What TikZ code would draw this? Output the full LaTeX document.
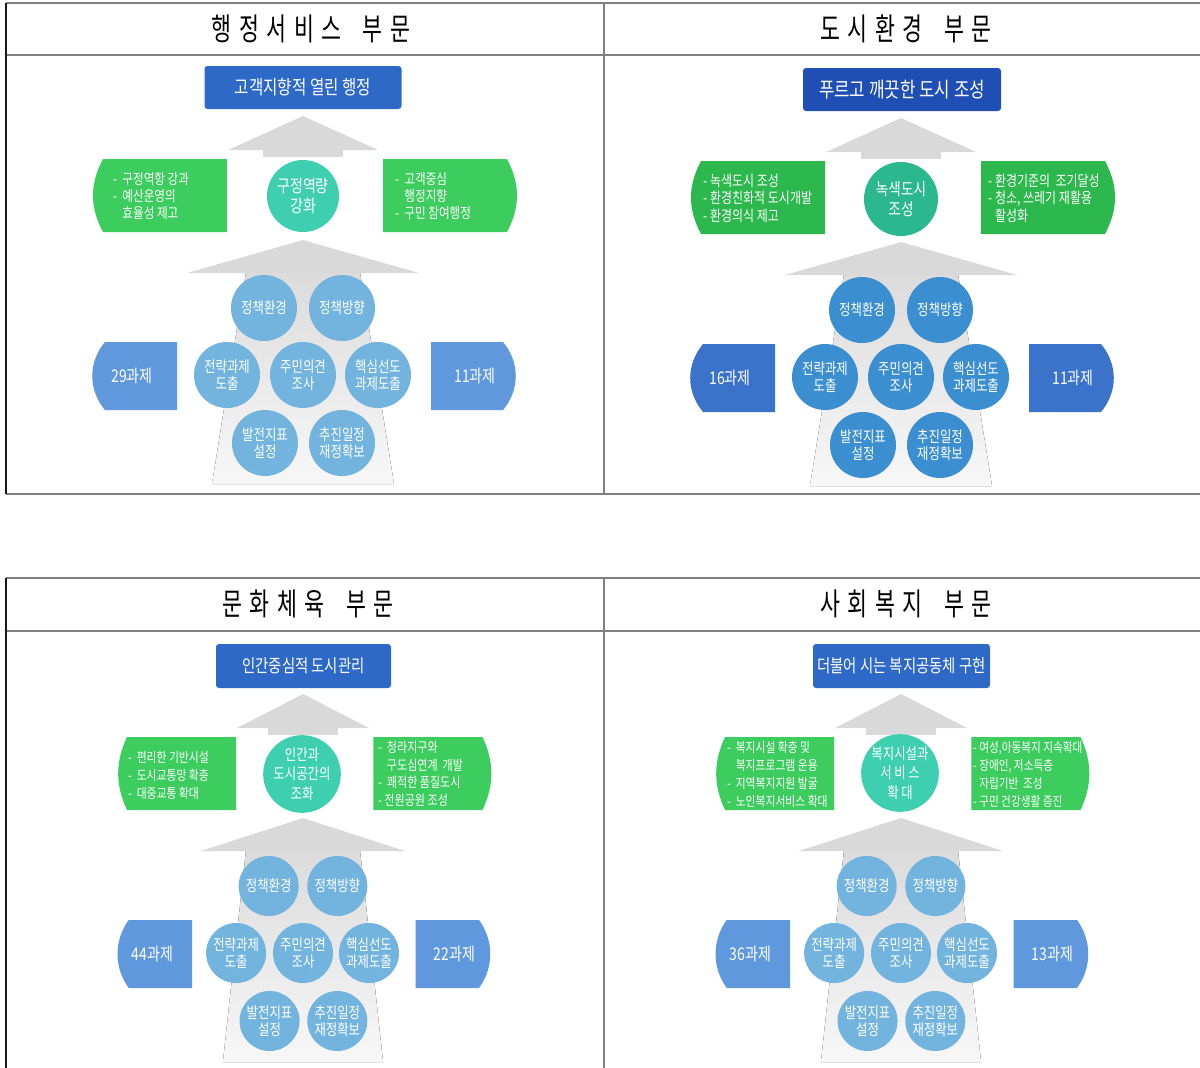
\documentclass[tikz,border=0pt]{standalone}
\usepackage{fontspec}
\usepackage{tikz}
\usetikzlibrary{calc}

\newfontfamily\krfont{Noto Sans CJK KR}[FakeStretch=0.8]
\newfontfamily\hdrfont{Noto Sans CJK KR}[FakeStretch=0.7,LetterSpace=24]

\definecolor{ttlA}{HTML}{2E69C8}
\definecolor{ttlB}{HTML}{1F4FB5}
\definecolor{grnA}{HTML}{3CCD5E}
\definecolor{grnB}{HTML}{2CB84C}
\definecolor{tealA}{HTML}{3ECFB0}
\definecolor{tealB}{HTML}{2BB88E}
\definecolor{cirA}{HTML}{72B4DE}
\definecolor{cirB}{HTML}{3B8FD1}
\definecolor{cntA}{HTML}{5F98DC}
\definecolor{cntB}{HTML}{3A73C9}

\tikzset{
  rulegray/.style={draw=black!50, line width=1.4pt},
  ruledark/.style={draw=black!90, line width=1.4pt},
  hdr/.style={font=\hdrfont\fontsize{31}{34}\selectfont},
  arrowtop/.style={fill=black!15},
  arrowbody/.style={top color=black!14, bottom color=black!3},
  aim/.style={rounded corners=3pt, text=white, minimum height=43pt, inner sep=0pt},
  goal/.style={circle, text=white, align=center, inner sep=0pt},
  task/.style={circle, text=white, align=center, inner sep=0pt,
    font=\krfont\fontsize{15.5}{17}\selectfont},
  nbox/.style={text=white, font=\krfont\fontsize{17.5}{19}\selectfont},
  memo/.style={text=white, align=left, anchor=west, inner sep=0pt},
}

\begin{document}
\begin{tikzpicture}[x=1pt, y=-1pt]
\useasboundingbox (0,0) rectangle (1200,1068);

% table
\draw[rulegray] (6,3) -- (1200,3);
\draw[rulegray] (6,55) -- (1200,55);
\draw[rulegray] (6,494) -- (1200,494);
\draw[rulegray] (6,578) -- (1200,578);
\draw[rulegray] (6,631) -- (1200,631);
\draw[rulegray] (604,3) -- (604,494);
\draw[rulegray] (604,578) -- (604,1068);
\draw[ruledark] (6,3) -- (6,494);
\draw[ruledark] (6,578) -- (6,1068);

\node[hdr] (h1) at (311,29) {행정서비스\hspace{9pt} 부문};
\node[hdr] (h2) at (906,29) {도시환경\hspace{9pt} 부문};
\node[hdr] (h3) at (308,604) {문화체육\hspace{9pt} 부문};
\node[hdr] (h4) at (906,604) {사회복지\hspace{9pt} 부문};

% panels
\foreach \p/\cx/\dy/\s/\r/\tn/\nl/\nr in {1/303/0/1/33/A/29/11, 2/901/2/1/33/B/16/11, 3/303/578/0.88/30/A/44/22, 4/901/578/0.88/30/A/36/13}{
  \pgfmathsetmacro\sh{57/\s}
  \begin{scope}[shift={(\cx,\dy)}, xscale=\s]
    \fill[arrowtop] (0,116) -- (75,150) -- (-75,150) -- cycle;
    \fill[arrowtop] (-40,149) rectangle (40,157);
    \fill[arrowbody] (-\sh,272) -- (\sh,272) -- (91,484) -- (-91,484) -- cycle;
    \fill[arrowtop] (0,240) -- (116,273) -- (-116,273) -- cycle;
    \fill[grn\tn] (-76,159) -- (-76,232) -- (-200,232) to[bend left=28] (-200,159) -- cycle;
    \fill[grn\tn] (80,159) -- (204,159) to[bend left=28] (204,232) -- (80,232) -- cycle;
    \fill[cnt\tn] (-126,342) -- (-126,410) -- (-198,410) to[bend left=40] (-198,342) -- cycle;
    \fill[cnt\tn] (128,342) -- (200,342) to[bend left=40] (200,410) -- (128,410) -- cycle;
    \node[nbox] (l\p) at (-171,376) {{\nl}과제};
    \node[nbox] (r\p) at (172,376) {{\nr}과제};
    \foreach \x/\y/\i/\txt in {-39/308/1/정책환경, 39/308/2/정책방향, -76/375/3/{전략과제\\도출}, 0/375/4/{주민의견\\조사}, 75/375/5/{핵심선도\\과제도출}, -38/443/6/{발전지표\\설정}, 39/443/7/{추진일정\\재정확보}}
      \node[task, fill=cir\tn, minimum size={2*\r pt}] (c\p-\i) at (\x,\y) {\txt};
  \end{scope}
}

% 행정서비스
\node[aim, fill=ttlA, minimum width=197pt, font=\krfont\fontsize{19.5}{21}\selectfont] (t1) at (303,87.5) {고객지향적 열린 행정};
\node[goal, fill=tealA, minimum size=72pt, font=\krfont\fontsize{17.5}{20}\selectfont] (g1) at (303,196) {구정역량\\강화};
\node[memo, font=\krfont\fontsize{14.5}{17}\selectfont] (m1l) at (113,196) {-~ 구정역항 강과\\-~ 예산운영의\\\phantom{-~ }효율성 제고};
\node[memo, font=\krfont\fontsize{14.5}{17}\selectfont] (m1r) at (395,196) {-~ 고객중심\\\phantom{-~ }행정지향\\-~ 구민 참여행정};

% 도시환경
\node[aim, fill=ttlB, minimum width=198pt, font=\krfont\fontsize{21}{23}\selectfont] (t2) at (902,89.5) {푸르고 깨끗한 도시 조성};
\node[goal, fill=tealB, minimum size=74pt, font=\krfont\fontsize{17}{20}\selectfont] (g2) at (901,199) {녹색도시\\조성};
\node[memo, font=\krfont\fontsize{15}{17.5}\selectfont] (m2l) at (703,198) {- 녹색도시 조성\\- 환경친화적 도시개발\\- 환경의식 제고};
\node[memo, font=\krfont\fontsize{15}{17.5}\selectfont] (m2r) at (988,198) {- 환경기준의~ 조기달성\\- 청소, 쓰레기 재활용\\\phantom{- }활성화};

% 문화체육
\node[aim, fill=ttlA, minimum width=175pt, minimum height=44pt, font=\krfont\fontsize{18}{20}\selectfont] (t3) at (303.5,666) {인간중심적 도시관리};
\node[goal, fill=tealA, minimum size=66pt, font=\krfont\fontsize{15.5}{19.5}\selectfont] (g3) at (302,774) {인간과\\도시공간의\\조화};
\node[memo, font=\krfont\fontsize{13.5}{18}\selectfont] (m3l) at (128,775) {-~ 편리한 기반시설\\-~ 도시교통망 확충\\-~ 대중교통 확대};
\node[memo, font=\krfont\fontsize{13.8}{17.5}\selectfont] (m3r) at (378,774) {-~ 청라지구와\\\phantom{-~ }구도심연계~ 개발\\-~ 쾌적한 품질도시\\- 전원공원 조성};

% 사회복지
\node[aim, fill=ttlA, minimum width=177pt, minimum height=44pt, font=\krfont\fontsize{18}{20}\selectfont] (t4) at (901.5,666) {더불어 시는 복지공동체 구현};
\node[goal, fill=tealA, minimum size=64pt, font=\krfont\fontsize{15.5}{19.5}\selectfont] (g4) at (900,773) {복지시설과\\서\,비\,스\\확\,대};
\node[memo, font=\krfont\fontsize{13.5}{18}\selectfont] (m4l) at (727,774) {-~ 복지시설 확충 및\\\phantom{-~ }복지프로그램 운용\\-~ 지역복지지원 발굴\\-~ 노인복지서비스 확대};
\node[memo, font=\krfont\fontsize{13.3}{18}\selectfont] (m4r) at (973,774) {- 여성,아동복지 지속확대\\- 장애인, 저소득층\\\phantom{- }자립기반~ 조성\\- 구민 건강생활 증진};

\end{tikzpicture}
\end{document}
